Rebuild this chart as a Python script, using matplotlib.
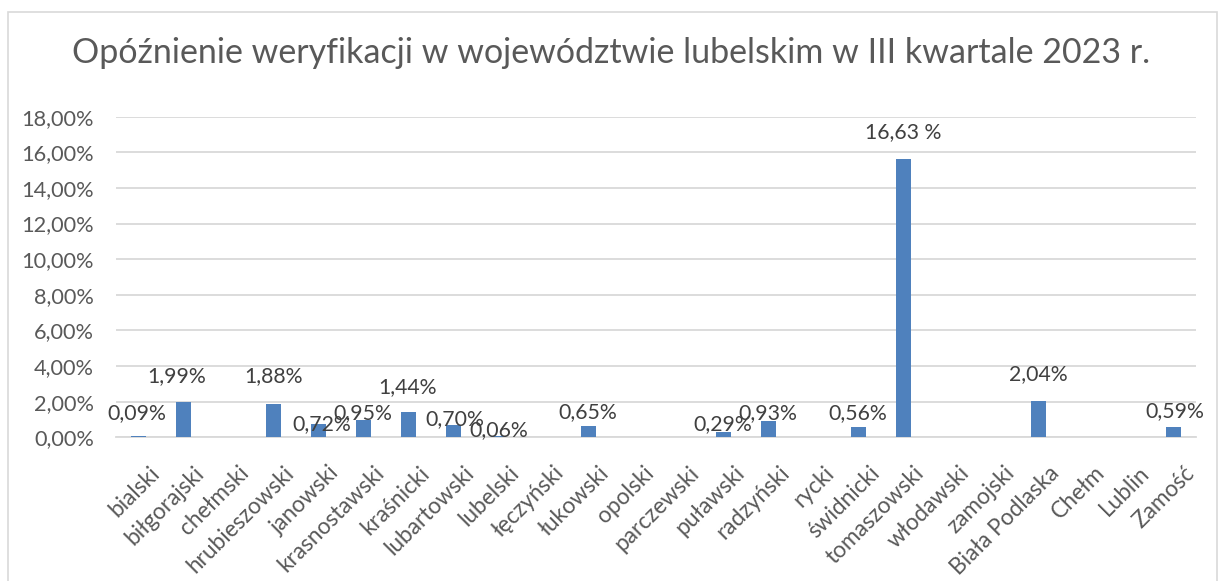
import matplotlib
matplotlib.use("Agg")
import matplotlib.pyplot as plt
from matplotlib.patches import Rectangle

# ---- data ----
categories = ["bialski", "biłgorajski", "chełmski", "hrubieszowski", "janowski",
              "krasnostawski", "kraśnicki", "lubartowski", "lubelski", "łęczyński",
              "łukowski", "opolski", "parczewski", "puławski", "radzyński", "rycki",
              "świdnicki", "tomaszowski", "włodawski", "zamojski", "Biała Podlaska",
              "Chełm", "Lublin", "Zamość"]
values = [0.09, 1.99, 0.0, 1.88, 0.72, 0.95, 1.44, 0.70, 0.06, 0.0,
          0.65, 0.0, 0.0, 0.29, 0.93, 0.0, 0.56, 15.63, 0.0, 0.0, 2.04,
          0.0, 0.0, 0.59]
label_texts = ["0,09%", "1,99%", "", "1,88%", "0,72%", "0,95%", "1,44%", "0,70%",
               "0,06%", "", "0,65%", "", "", "0,29%", "0,93%", "", "0,56%",
               "16,63 %", "", "", "2,04%", "", "", "0,59%"]
ytick_vals = [0, 2, 4, 6, 8, 10, 12, 14, 16, 18]
ytick_labels = ["0,00%", "2,00%", "4,00%", "6,00%", "8,00%", "10,00%", "12,00%",
                "14,00%", "16,00%", "18,00%"]
title = "Opóźnienie weryfikacji w województwie lubelskim w III kwartale 2023 r."

# manual label placement (layout, not data): x shift in categories, y position in axis units
label_dx = [-0.03, -0.15, 0, 0.0, 0.07, -0.01, -0.03, 0.03,
            0.01, 0, -0.01, 0, 0, -0.01, -0.01, 0, -0.01,
            0.0, 0, 0, -0.01, 0, 0, 0.03]
label_y = [1.36, 3.44, 0, 3.44, 0.75, 1.36, 2.82, 1.03,
           0.41, 0, 1.42, 0, 0, 0.75, 1.36, 0, 1.36,
           17.14, 0, 0, 3.55, 0, 0, 1.48]

plt.rcParams['font.family'] = ['Lato', 'DejaVu Sans']
text_color = "#595959"

fig = plt.figure(figsize=(12.22, 5.81), dpi=100)
fig.patches.append(Rectangle((8 / 1222, -0.01), 1209 / 1222, 1.01 - 12 / 581,
                             transform=fig.transFigure, fill=False,
                             edgecolor="#D9D9D9", linewidth=1.2))
ax = fig.add_axes([116 / 1222, 1 - 437.3 / 581, 1080 / 1222, (437.3 - 116.7) / 581])

x = list(range(len(categories)))
ax.bar(x, values, width=0.333, color="#4F81BD", zorder=3)
ax.set_xlim(-0.5, len(categories) - 0.5)
ax.set_ylim(0, 18)
ax.set_yticks(ytick_vals)
ax.set_yticklabels(ytick_labels)
ax.yaxis.grid(True, color="#D9D9D9", linewidth=1.3, zorder=0)
ax.set_axisbelow(True)
for s in ["top", "right", "left"]:
    ax.spines[s].set_visible(False)
ax.spines["bottom"].set_color("#D9D9D9")
ax.spines["bottom"].set_linewidth(1.3)
ax.tick_params(axis="y", length=0, pad=16, labelsize=15.7, labelcolor=text_color)
ax.tick_params(axis="x", length=0, pad=18, labelsize=16.3, labelcolor=text_color)
ax.set_xticks(x)
ax.set_xticklabels(categories, rotation=45, ha="right", va="top",
                   rotation_mode="anchor")
for lbl in ax.get_xticklabels():
    lbl.set_transform(lbl.get_transform() + matplotlib.transforms.ScaledTranslation(10 / 100, 0, fig.dpi_scale_trans))

for i, t in enumerate(label_texts):
    if t:
        ax.text(i + label_dx[i], label_y[i], t, ha="center", va="center",
                fontsize=15.3, color="#404040", zorder=4)

fig.text(0.5, 1 - 53 / 581, title, ha="center", va="center", fontsize=24.5,
         color=text_color)

fig.savefig("out.png", dpi=100)
